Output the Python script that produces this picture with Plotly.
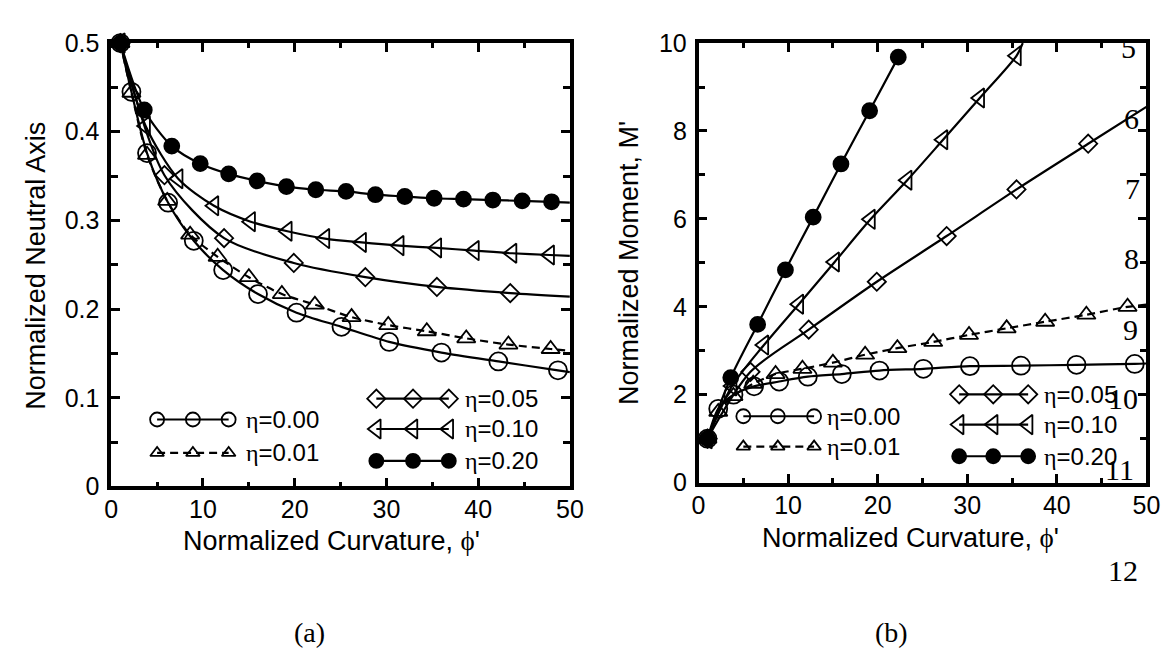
import plotly.graph_objects as go

W, H = 1173, 661

# ---------------- data ----------------
# eta = 0.00 (open circles, solid)
PHI_00 = [1, 2.2, 3.9, 6.2, 9.0, 12.2, 16.0, 20.2, 25.1, 30.3, 36.0, 42.2, 48.7]
NA_00 = [0.5, 0.445, 0.376, 0.320, 0.277, 0.244, 0.217, 0.196, 0.180, 0.163, 0.151, 0.141, 0.131]
M_00 = [1.0, 1.68, 2.00, 2.19, 2.30, 2.41, 2.47, 2.55, 2.59, 2.65, 2.66, 2.68, 2.70]
END_00 = {"phi": 50, "na": 0.129, "m": 2.71}

# eta = 0.01 (open up-triangles, dashed)
PHI_01 = [1, 2.2, 3.9, 6.1, 8.6, 11.6, 15.0, 18.6, 22.2, 26.2, 30.2, 34.4, 38.7, 43.3, 47.9]
NA_01 = [0.5, 0.444, 0.374, 0.322, 0.284, 0.259, 0.236, 0.217, 0.205, 0.191, 0.182, 0.175, 0.167, 0.160, 0.155]
M_01 = [1.0, 1.61, 1.97, 2.25, 2.47, 2.59, 2.73, 2.91, 3.06, 3.20, 3.36, 3.51, 3.66, 3.82, 4.00]
END_01 = {"phi": 50, "na": 0.153, "m": 4.05}

# eta = 0.05 (open diamonds)
PHI_05 = [1, 5.8, 12.3, 19.9, 27.7, 35.5, 43.5]
NA_05 = [0.5, 0.351, 0.280, 0.252, 0.236, 0.225, 0.218]
M_05 = [1.0, 2.52, 3.48, 4.57, 5.61, 6.67, 7.71]
END_05 = {"phi": 50, "na": 0.214, "m": 8.55}

# eta = 0.10 (open left-triangles)
PHI_10 = [1, 3.75, 7.3, 11.2, 15.2, 19.2, 23.3, 27.3, 31.4, 35.5, 39.6, 43.7, 47.8]
NA_10 = [0.5, 0.4065, 0.347, 0.3165, 0.2986, 0.2878, 0.2795, 0.2752, 0.2716, 0.269, 0.266, 0.263, 0.261]
M_10 = [1.0, 2.20, 3.13, 4.06, 5.02, 5.99, 6.88, 7.80, 8.75, 9.71]
END_10 = {"phi_na": 50, "na": 0.260, "phi_m": 36.2, "m": 10.0}

# eta = 0.20 (filled circles)
PHI_20 = [1, 3.6, 6.6, 9.7, 12.8, 15.9, 19.1, 22.3, 25.6, 28.8, 32.0, 35.2, 38.4, 41.6, 44.8, 48.0]
NA_20 = [0.5, 0.4245, 0.3838, 0.364, 0.3525, 0.3446, 0.3381, 0.3346, 0.3327, 0.329, 0.327, 0.325, 0.324, 0.323, 0.322, 0.321]
M_20 = [1.0, 2.39, 3.60, 4.84, 6.04, 7.25, 8.46, 9.68]
END_20 = {"phi": 50, "na": 0.320}

X_TICKS = [0, 10, 20, 30, 40, 50]
NA_TICKS = [0, 0.1, 0.2, 0.3, 0.4, 0.5]
M_TICKS = [0, 2, 4, 6, 8, 10]
LABELS = ["η=0.00", "η=0.01", "η=0.05", "η=0.10", "η=0.20"]
SIDE_NUMBERS = ["5", "6", "7", "8", "9", "10", "11", "12"]

# ---------------- style ----------------
SANS = "Liberation Sans, Arial, sans-serif"
SERIF = "Liberation Serif, Times New Roman, serif"
BLK = "black"
TICK_FS, TITLE_FS, LEG_FS, SIDE_FS, CAP_FS = 25, 27, 24, 30, 28

def greek(s):
    return s.replace("η", '<span style="font-family:Liberation Serif">η</span>')

fig = go.Figure()

def add_series(xa, ya, phis, vals, line_x, line_y, symbol, size, dash="solid"):
    fig.add_trace(go.Scatter(x=line_x, y=line_y, mode="lines", xaxis=xa, yaxis=ya,
                             line=dict(color=BLK, width=2.2, dash=dash, shape="spline", smoothing=0.8),
                             showlegend=False, hoverinfo="skip"))
    fig.add_trace(go.Scatter(x=phis, y=vals, mode="markers", xaxis=xa, yaxis=ya, cliponaxis=False,
                             marker=dict(symbol=symbol, size=size, color=BLK,
                                         line=dict(color=BLK, width=1.8)),
                             showlegend=False, hoverinfo="skip"))

DASH = "8px,5px"
S_CIR, S_TRI, S_DIA, S_TRL, S_DOT = 18, 16, 14, 17, 15
# ---- panel (a) ----
add_series("x", "y", PHI_00, NA_00, PHI_00 + [END_00["phi"]], NA_00 + [END_00["na"]], "circle-open", S_CIR)
add_series("x", "y", PHI_01, NA_01, PHI_01 + [END_01["phi"]], NA_01 + [END_01["na"]], "triangle-up-open", S_TRI, DASH)
add_series("x", "y", PHI_05, NA_05, PHI_05 + [END_05["phi"]], NA_05 + [END_05["na"]], "diamond-open", S_DIA)
add_series("x", "y", PHI_10, NA_10, PHI_10 + [END_10["phi_na"]], NA_10 + [END_10["na"]], "triangle-left-open", S_TRL)
add_series("x", "y", PHI_20, NA_20, PHI_20 + [END_20["phi"]], NA_20 + [END_20["na"]], "circle", S_DOT)

# ---- panel (b) ----
n10 = len(M_10)
n20 = len(M_20)
add_series("x2", "y2", PHI_00, M_00, PHI_00 + [END_00["phi"]], M_00 + [END_00["m"]], "circle-open", S_CIR)
add_series("x2", "y2", PHI_01, M_01, PHI_01 + [END_01["phi"]], M_01 + [END_01["m"]], "triangle-up-open", S_TRI, DASH)
add_series("x2", "y2", PHI_05, M_05, PHI_05 + [END_05["phi"]], M_05 + [END_05["m"]], "diamond-open", S_DIA)
add_series("x2", "y2", PHI_10[:n10], M_10, PHI_10[:n10] + [END_10["phi_m"]], M_10 + [END_10["m"]], "triangle-left-open", S_TRL)
add_series("x2", "y2", PHI_20[:n20], M_20, PHI_20[:n20], M_20, "circle", S_DOT)

# ---- in-plot legends (layout positions in axis units) ----
def legend_row(xa, ya, xs, yv, symbol, size, dash, text, tx):
    fig.add_trace(go.Scatter(x=xs, y=[yv] * len(xs), mode="lines+markers", xaxis=xa, yaxis=ya,
                             line=dict(color=BLK, width=2.2, dash=dash),
                             marker=dict(symbol=symbol, size=size, color=BLK, line=dict(color=BLK, width=1.8)),
                             showlegend=False, hoverinfo="skip", cliponaxis=False))
    fig.add_annotation(x=tx, y=yv, xref=xa, yref=ya, text=greek(text), showarrow=False,
                       xanchor="left", yanchor="middle", font=dict(family=SANS, size=LEG_FS, color=BLK))

LA1 = [5.0, 8.9, 12.8]
LA2 = [28.9, 32.9, 36.8]
legend_row("x", "y", LA1, 0.0755, "circle-open", 14, "solid", LABELS[0], 14.5)
legend_row("x", "y", LA1, 0.0378, "triangle-up-open", 12, DASH, LABELS[1], 14.5)
legend_row("x", "y", LA2, 0.099, "diamond-open", 14, "solid", LABELS[2], 38.4)
legend_row("x", "y", LA2, 0.0648, "triangle-left-open", 17, "solid", LABELS[3], 38.4)
legend_row("x", "y", LA2, 0.0288, "circle", 14, "solid", LABELS[4], 38.4)

LB1 = [5.0, 8.85, 12.9]
LB2 = [29.1, 32.9, 36.8]
legend_row("x2", "y2", LB1, 1.51, "circle-open", 14, "solid", LABELS[0], 14.1)
legend_row("x2", "y2", LB1, 0.82, "triangle-up-open", 12, DASH, LABELS[1], 14.1)
legend_row("x2", "y2", LB2, 2.01, "diamond-open", 14, "solid", LABELS[2], 38.4)
legend_row("x2", "y2", LB2, 1.32, "triangle-left-open", 17, "solid", LABELS[3], 38.4)
legend_row("x2", "y2", LB2, 0.60, "circle", 14, "solid", LABELS[4], 38.4)

# ---------------- axes ----------------
def axis(rng, tickvals, minor_dtick, domain, anchor, maj_len, min_len, standoff):
    return dict(range=rng, tickvals=tickvals, domain=domain, anchor=anchor,
                ticks="inside", ticklen=maj_len, tickwidth=2.5, tickcolor=BLK,
                showline=True, linewidth=3.5, linecolor=BLK, mirror="allticks",
                showgrid=False, zeroline=False, fixedrange=True,
                ticklabelstandoff=standoff,
                tickfont=dict(family=SANS, size=TICK_FS, color=BLK),
                minor=dict(dtick=minor_dtick, ticks="inside", ticklen=min_len,
                           tickwidth=2.5, tickcolor=BLK, showgrid=False))

def px(x):
    return x / W

def py(y):
    return 1 - y / H

L1, R1, L2, R2 = 98, 565, 696, 1152
T, B1, B2 = 22, 485, 481

fig.update_layout(
    width=W, height=H, margin=dict(l=0, r=0, t=0, b=0),
    paper_bgcolor="white", plot_bgcolor="white", showlegend=False,
    xaxis=axis([0, 50], X_TICKS, 5, [px(L1), px(R1)], "y", 9, 5, -2),
    yaxis=axis([0, 0.5], NA_TICKS, 0.05, [py(B1), py(T)], "x", 9, 7, 3),
    xaxis2=axis([0, 50], X_TICKS, 5, [px(L2), px(R2)], "y2", 9, 5, -2),
    yaxis2=axis([0, 10], M_TICKS, 1, [py(B2), py(T)], "x2", 9, 7, 3),
)

PHI_TXT = "Normalized Curvature, " + '<span style="font-family:Liberation Serif">ϕ</span>' + "'"
ann = [
    dict(x=px(322), y=py(542), text=PHI_TXT, size=TITLE_FS, family=SANS, angle=0),
    dict(x=px(912), y=py(539), text=PHI_TXT, size=TITLE_FS, family=SANS, angle=0),
    dict(x=px(22), y=py(255), text="Normalized Neutral Axis", size=TITLE_FS, family=SANS, angle=-90),
    dict(x=px(626), y=py(252), text="Normalized Moment, M'", size=TITLE_FS, family=SANS, angle=-90),
    dict(x=px(300), y=py(638), text="(a)", size=CAP_FS, family=SERIF, angle=0),
    dict(x=px(892), y=py(638), text="(b)", size=CAP_FS, family=SERIF, angle=0),
]
SIDE_POS = [(1134, 27), (1137, 101), (1138, 174), (1137, 247), (1136, 321), (1128, 393), (1125, 467), (1128, 573)]
for s, (sx, sy) in zip(SIDE_NUMBERS, SIDE_POS):
    ann.append(dict(x=px(sx), y=py(sy), text=s, size=SIDE_FS, family=SERIF, angle=0))

for a in ann:
    fig.add_annotation(x=a["x"], y=a["y"], xref="paper", yref="paper", text=a["text"],
                       showarrow=False, xanchor="center", yanchor="middle", textangle=a["angle"],
                       font=dict(family=a["family"], size=a["size"], color=BLK))

fig.write_html("out.html")
